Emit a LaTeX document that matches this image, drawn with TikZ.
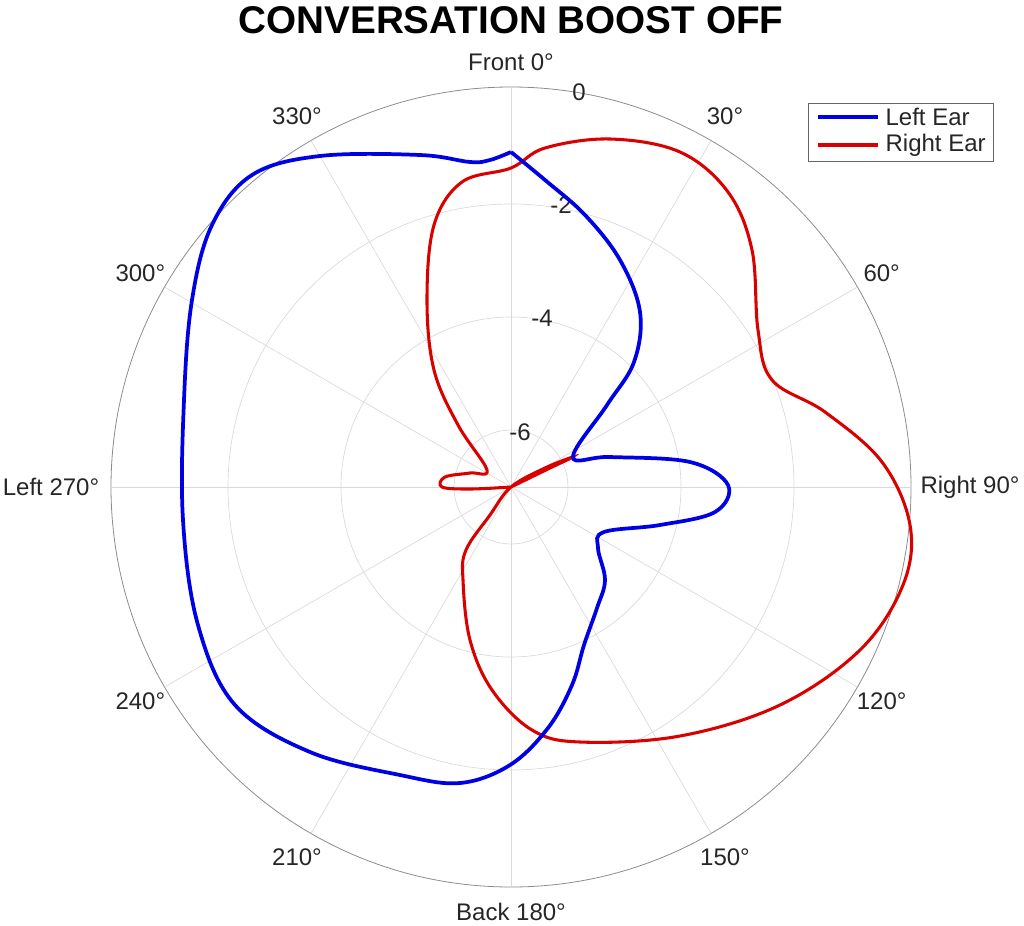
\documentclass[tikz,border=0pt]{standalone}
\usepackage{fontspec}
\setmainfont{Liberation Sans}
\usetikzlibrary{calc}
\tikzset{>=latex}
\tikzstyle{grid}=[draw=black!15,line width=0.5pt]
\tikzstyle{lefte}=[draw=blue!90!black,line width=2.8pt]
\tikzstyle{righte}=[draw=red!85!black,line width=2.3pt]
\tikzstyle{lab}=[font=\fontsize{18}{21}\selectfont,text=black!85,inner sep=1pt]
\begin{document}
\begin{tikzpicture}[x=0.75pt,y=-0.75pt]
	\useasboundingbox (0,0) rectangle (1024,925);
	\coordinate (c) at (511,487);
	\def \Rout {400};

	% rings and spokes
	\foreach \r in {57,170,283} {
		\draw[grid] (c) circle (\r);
	};
	\draw[draw=black!45,line width=0.6pt] (c) circle (\Rout);
	\foreach \a in {0,30,...,330} {
		\draw[grid] (c) -- ++(\a-90:\Rout);
	};

	% angle labels
	\foreach \a/\t in {30/30°,60/60°,120/120°,150/150°,210/210°,240/240°,300/300°,330/330°} {
		\node[lab] (ang\a) at ($(c)+(\a-90:428)$) {\t};
	};
	\node[lab] (front) at (511,62) {Front 0°};
	\node[lab] (back) at (511,912) {Back 180°};
	\node[lab] (right) at (970,487) {Right 90°};
	\node[lab] (left) at (51,487) {Left 270°};

	% radial labels
	\node[lab] (r0) at (579,92) {0};
	\node[lab] (r2) at (561,205) {-2};
	\node[lab] (r4) at (542,318) {-4};
	\node[lab] (r6) at (520,432) {-6};

	% curves
	\draw[righte] plot[smooth,tension=0.6] coordinates {
		(511,487) (470,489) (442,487) (445,477) (470,473) (487,470)
		(458,425) (434,370) (427,300) (434,225) (462,182) (511,168)
		(545,148) (610,139) (680,152) (728,192) (752,250) (758,330)
		(772,380) (825,412) (882,462) (910,525) (903,585) (860,650)
		(780,705) (680,736) (580,742) (532,730) (492,690) (470,640)
		(463,580) (466,550) (490,515) (511,487) (545,468) (573,457)
		(550,468) (511,487)};
	\draw[lefte] plot[smooth,tension=0.6] coordinates {
		(511,152) (545,180) (585,215) (620,260) (640,312) (634,362)
		(607,405) (573,457) (610,457) (690,462) (728,485) (715,512)
		(660,525) (604,532) (598,548) (605,580) (597,608) (584,645)
		(572,685) (548,728) (510,765) (460,783) (400,775) (310,752)
		(235,705) (198,625) (183,520) (184,400) (192,300) (212,225)
		(252,175) (320,156) (420,155) (470,162) (490,160) (511,152)};

	% legend
	\draw[draw=black!60,fill=white] (808,103) rectangle (993,161);
	\draw[lefte] (818,117) -- (878,117);
	\draw[righte] (818,145) -- (878,145);
	\node[lab,anchor=west] (legl) at (884,117) {Left Ear};
	\node[lab,anchor=west] (legr) at (884,145) {Right Ear};

	\node[font=\bfseries\fontsize{29}{32}\selectfont] (title) at (511,20) {CONVERSATION BOOST OFF};
\end{tikzpicture}
\end{document}
